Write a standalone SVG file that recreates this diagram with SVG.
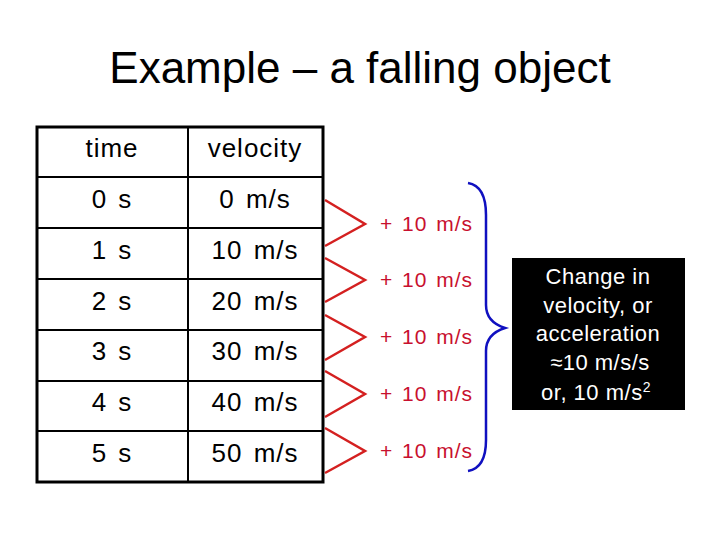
<svg xmlns="http://www.w3.org/2000/svg" width="720" height="540" viewBox="0 0 720 540">
<style>
text{font-family:"Liberation Sans",Arial,sans-serif}
.c{font-size:26px;text-anchor:middle;fill:#000;letter-spacing:1px;word-spacing:3px}
.r{font-size:21px;fill:#c8102e;letter-spacing:1px;word-spacing:2px}
.w{font-size:22px;fill:#fff;text-anchor:middle;letter-spacing:0.5px}
.g{fill:none;stroke:#000;stroke-width:2}
.ch{fill:none;stroke:#d42020;stroke-width:2.5}
</style>
<rect width="720" height="540" fill="#fff"/>
<text x="360" y="83" font-size="44" text-anchor="middle">Example – a falling object</text>
<g id="table">
<rect x="37" y="127" width="286" height="355" fill="none" stroke="#000" stroke-width="3"/>
<path class="g" d="M188 127V482M37 177H323M37 228H323M37 279H323M37 330H323M37 381H323M37 431H323"/>
<text class="c" x="112" y="157">time</text><text class="c" x="255" y="157">velocity</text>
<text class="c" x="112" y="208">0 s</text><text class="c" x="255" y="208">0 m/s</text>
<text class="c" x="112" y="259">1 s</text><text class="c" x="255" y="259">10 m/s</text>
<text class="c" x="112" y="310">2 s</text><text class="c" x="255" y="310">20 m/s</text>
<text class="c" x="112" y="360">3 s</text><text class="c" x="255" y="360">30 m/s</text>
<text class="c" x="112" y="411">4 s</text><text class="c" x="255" y="411">40 m/s</text>
<text class="c" x="112" y="462">5 s</text><text class="c" x="255" y="462">50 m/s</text>
</g>
<g id="connectors">
<path class="ch" d="M325 200L365 224L325 246M325 258L365 280L325 302M325 315L365 337L325 360M325 371L365 394L325 417M325 428L365 451L325 473"/>
<path d="M468 183Q486 186 486 215V305Q486 322 505 328Q486 334 486 351V440Q486 468 468 471" fill="none" stroke="#1010c0" stroke-width="2.5"/>
</g>
<g id="labels">
<text class="r" x="380" y="231">+ 10 m/s</text>
<text class="r" x="380" y="287">+ 10 m/s</text>
<text class="r" x="380" y="344">+ 10 m/s</text>
<text class="r" x="380" y="401">+ 10 m/s</text>
<text class="r" x="380" y="458">+ 10 m/s</text>
</g>
<g id="note">
<rect x="512" y="258" width="173" height="152" fill="#000"/>
<text class="w" x="598" y="284">Change in</text>
<text class="w" x="598" y="313">velocity, or</text>
<text class="w" x="598" y="341">acceleration</text>
<text class="w" x="600" y="370">≈10 m/s/s</text>
<text class="w" x="596" y="400">or, 10 m/s<tspan font-size="14" dy="-8">2</tspan></text>
</g>
</svg>
